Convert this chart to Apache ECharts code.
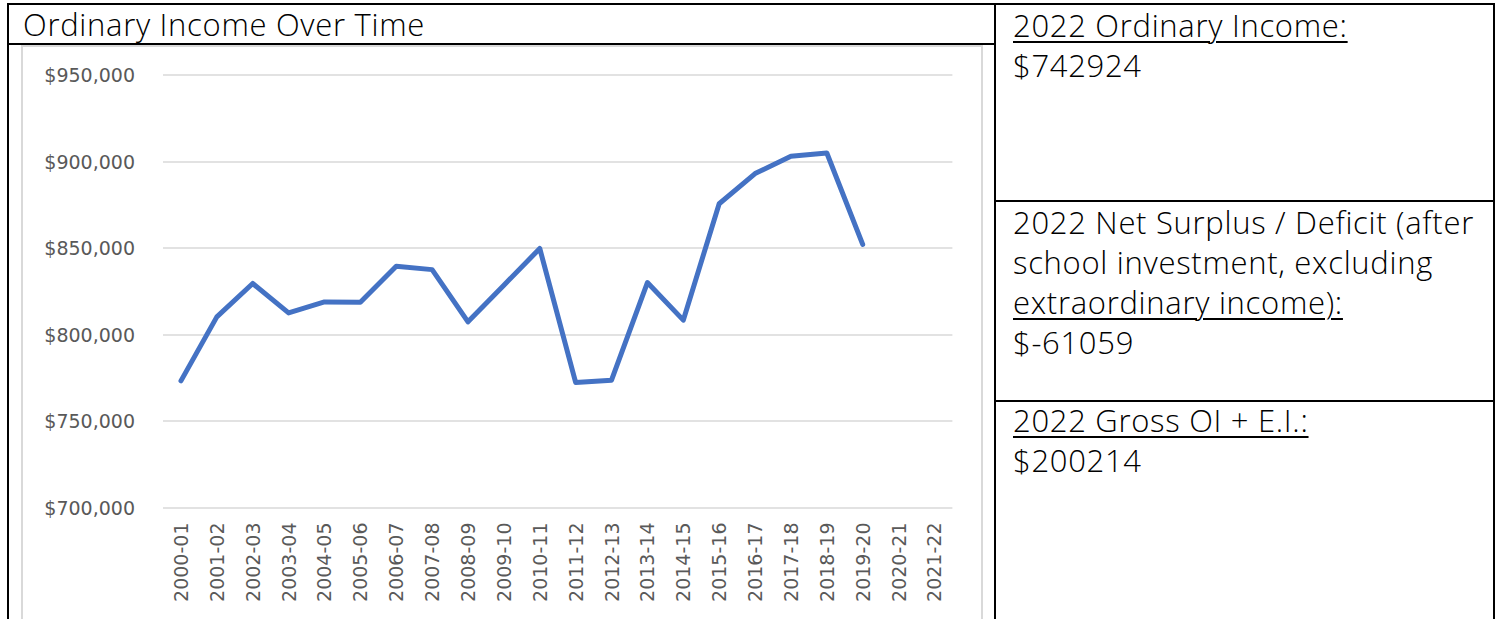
<!DOCTYPE html>
<html>
<head>
<meta charset="utf-8">
<script src="https://cdn.jsdelivr.net/npm/echarts@6/dist/echarts.min.js"></script>
<style>
html,body{margin:0;padding:0;background:#fff;width:1502px;height:619px;overflow:hidden;position:relative;}
.ln{position:absolute;background:#000;}
.txt{position:absolute;font-family:"Open Sans",sans-serif;font-weight:300;font-size:31px;letter-spacing:0.7px;line-height:40px;color:#000;white-space:nowrap;}
.u{text-decoration:underline;text-decoration-thickness:2px;text-underline-offset:4px;}
#frame{position:absolute;left:21px;top:45px;width:962px;height:600px;border:2px solid #d9d9d9;box-sizing:border-box;}
#chart{position:absolute;left:23px;top:47px;width:958px;height:572px;}
</style>
</head>
<body>
<div class="ln" style="left:7px;top:3px;width:1488px;height:2px;"></div>
<div class="ln" style="left:7px;top:3px;width:2px;height:616px;"></div>
<div class="ln" style="left:1493px;top:3px;width:2px;height:616px;"></div>
<div class="ln" style="left:994px;top:3px;width:2px;height:616px;"></div>
<div class="ln" style="left:7px;top:43px;width:989px;height:2px;"></div>
<div class="ln" style="left:994px;top:200px;width:501px;height:2px;"></div>
<div class="ln" style="left:994px;top:400px;width:501px;height:2px;"></div>

<div class="txt" style="left:23px;top:4px;">Ordinary Income Over Time</div>

<div class="txt" style="left:1013px;top:5px;"><span class="u">2022 Ordinary Income:</span><br>$742924</div>
<div class="txt" style="left:1013px;top:202px;">2022 Net Surplus / Deficit (after<br>school investment, excluding<br><span class="u">extraordinary income):</span><br>$-61059</div>
<div class="txt" style="left:1013px;top:400px;"><span class="u">2022 Gross OI + E.I.:</span><br>$200214</div>

<div id="frame"></div>
<div id="chart"></div>
<script>
var categories = ["2000-01","2001-02","2002-03","2003-04","2004-05","2005-06","2006-07","2007-08","2008-09","2009-10","2010-11","2011-12","2012-13","2013-14","2014-15","2015-16","2016-17","2017-18","2018-19","2019-20","2020-21","2021-22"];
var ordinaryIncome = [773200,810200,829500,812500,818800,818600,839400,837500,807300,828500,849700,772300,773600,830000,808300,875600,893000,903000,904900,852100,null,null];
var yMin = 700000, yMax = 950000, yStep = 50000;

var chart = echarts.init(document.getElementById('chart'), null, {renderer:'svg'});
chart.setOption({
  animation:false,
  grid:{left:140,top:28,width:789.4,height:432.5,containLabel:false},
  xAxis:{
    type:'category',
    data:categories,
    boundaryGap:true,
    axisLine:{show:false},
    axisTick:{show:false},
    axisLabel:{rotate:90,margin:15,color:'#595959',fontFamily:'DejaVu Sans',fontSize:19,interval:0}
  },
  yAxis:{
    type:'value',
    min:yMin,max:yMax,interval:yStep,
    axisLine:{show:false},
    axisTick:{show:false},
    splitLine:{lineStyle:{color:'#d9d9d9',width:1.5}},
    axisLabel:{margin:28,color:'#595959',fontFamily:'DejaVu Sans',fontSize:19,
      formatter:function(v){return '$'+v.toLocaleString('en-US');}}
  },
  series:[{
    type:'line',
    data:ordinaryIncome,
    showSymbol:false,
    symbol:'none',
    connectNulls:false,
    lineStyle:{color:'#4472C4',width:5,cap:'round',join:'round'}
  }]
});
</script>
</body>
</html>
